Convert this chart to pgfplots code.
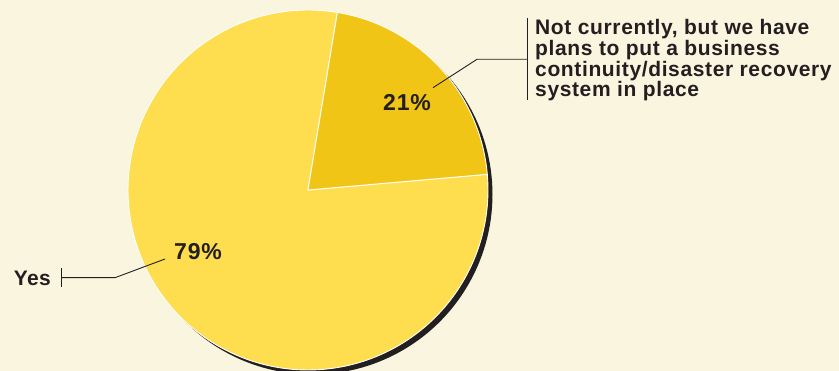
\documentclass[border=0pt]{standalone}
\usepackage{fontspec}
\setmainfont{Liberation Sans}
\usepackage{pgfplots}
\pgfplotsset{compat=1.18}
\definecolor{bg}{HTML}{FAF5DF}
\definecolor{lighty}{HTML}{FEDD4E}
\definecolor{darky}{HTML}{F0C515}
\definecolor{shadowc}{HTML}{231F20}
\definecolor{ink}{HTML}{231F20}
\begin{document}
\begin{tikzpicture}
\fill[bg] (0,0) rectangle (839bp,371bp);
% data (percent)
\pgfmathsetmacro{\vA}{21} % Not currently, but we have plans ...
\pgfmathsetmacro{\vB}{79} % Yes
\pgfmathsetmacro{\startA}{5}
\pgfmathsetmacro{\endA}{\startA+3.6*\vA}
\pgfmathsetmacro{\endB}{\endA+3.6*\vB}
\begin{axis}[at={(0,0)},anchor=south west,x=1bp,y=1bp,
  xmin=0,xmax=839,ymin=0,ymax=371,hide axis,clip=true]
% shadow
\addplot[fill=shadowc,draw=none,domain=0:360,samples=181]
  ({312.5+180*cos(x)},{176.5+180*sin(x)}) -- cycle;
% slices
\addplot[fill=lighty,draw=white,line width=0.9bp,domain=\endA:\endB,samples=200]
  ({308+180*cos(x)},{181+180*sin(x)}) -- (axis cs:308,181) -- cycle;
\addplot[fill=darky,draw=white,line width=0.9bp,domain=\startA:\endA,samples=80]
  ({308+180*cos(x)},{181+180*sin(x)}) -- (axis cs:308,181) -- cycle;
% leaders
\draw[ink,line width=0.9bp] (axis cs:61,103) -- (axis cs:61,84);
\draw[ink,line width=0.9bp] (axis cs:61,93.3) -- (axis cs:115,93.3) -- (axis cs:165,112);
\draw[ink,line width=0.9bp] (axis cs:433,283.3) -- (axis cs:477,311.7) -- (axis cs:527,311.7);
\draw[ink,line width=0.9bp] (axis cs:527,353) -- (axis cs:527,271);
% labels
\node[anchor=base east,inner sep=0,text=ink,font=\fontsize{21bp}{21bp}\selectfont\bfseries\addfontfeature{LetterSpace=2}] at (axis cs:51,86) {Yes};
\node[anchor=base,inner sep=0,text=ink,font=\fontsize{23bp}{23bp}\selectfont\bfseries\addfontfeature{LetterSpace=4}] at (axis cs:198,112) {79\%};
\node[anchor=base,inner sep=0,text=ink,font=\fontsize{23bp}{23bp}\selectfont\bfseries\addfontfeature{LetterSpace=4}] at (axis cs:407,260.3) {21\%};
\node[anchor=base west,inner sep=0,align=left,text=ink,font=\fontsize{21bp}{20.6bp}\selectfont\bfseries\addfontfeature{LetterSpace=3}] at (axis cs:535,274.3) {Not currently, but we have\\plans to put a business\\continuity/disaster recovery\\system in place};
\end{axis}
\pgfresetboundingbox
\useasboundingbox (0,0) rectangle (839bp,371bp);
\end{tikzpicture}
\end{document}
